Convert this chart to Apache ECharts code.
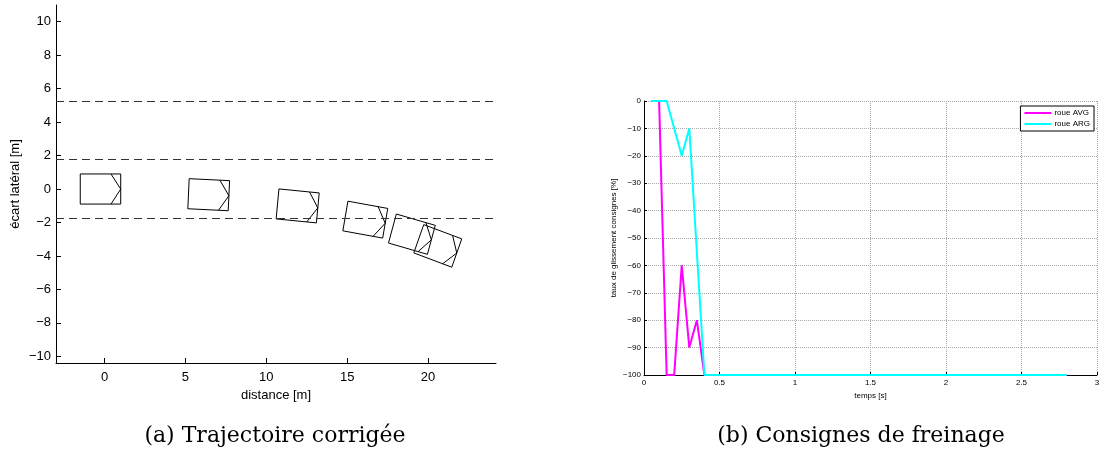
<!DOCTYPE html>
<html><head><meta charset="utf-8">
<script src="https://cdn.jsdelivr.net/npm/echarts@6/dist/echarts.min.js"></script>
<style>html,body{margin:0;padding:0;background:#fff}#c{width:1104px;height:461px}</style>
</head><body><div id="c"></div>
<script>
// ---- Panel (a): trajectory ----
const carX = [-0.25, 6.44, 11.94, 16.12, 19.0, 20.6];
const carY = [0, -0.34, -1.01, -1.83, -2.7, -3.4];
const carHeading = [0, -2.7, -5.5, -10, -15.7, -20];
const laneY = [5.25, 1.75, -1.75];
const leftXTicks = [0, 5, 10, 15, 20];
const leftYTicks = [-10, -8, -6, -4, -2, 0, 2, 4, 6, 8, 10];
// ---- Panel (b): braking commands ----
const tAVG = [0.05, 0.1, 0.15, 0.2, 0.25, 0.3, 0.35, 0.4, 2.8];
const slipAVG = [0, 0, -100, -100, -60, -90, -80, -100, -100];
const tARG = [0.05, 0.1, 0.15, 0.25, 0.3, 0.4, 2.8];
const slipARG = [0, 0, 0, -20, -10, -100, -100];
const captions = ['(a) Trajectoire corrigée', '(b) Consignes de freinage'];

const CAR_LEN = 2.5, CAR_WID = 1.8, NOSE = 0.6;
const SANS = '"Liberation Sans", Arial, sans-serif';
const minus = v => String(v).replace('-', '\u2212');

function renderCar(params, api) {
  const cx = api.value(0), cy = api.value(1), h = api.value(2) * Math.PI / 180;
  const c = Math.cos(h), s = Math.sin(h);
  const P = (u, v) => api.coord([cx + u * c - v * s, cy + u * s + v * c]);
  const hl = CAR_LEN / 2, hw = CAR_WID / 2;
  const rect = [P(-hl, hw), P(hl, hw), P(hl, -hw), P(-hl, -hw)];
  const chev = [P(hl - NOSE, hw), P(hl, 0), P(hl - NOSE, -hw)];
  return { type: 'group', children: [
    { type: 'polygon', shape: { points: rect }, style: { fill: 'none', stroke: '#000', lineWidth: 1 } },
    { type: 'polyline', shape: { points: chev }, style: { fill: 'none', stroke: '#000', lineWidth: 1 } }
  ] };
}

const chart = echarts.init(document.getElementById('c'), null, { renderer: 'canvas' });
chart.setOption({
  animation: false,
  backgroundColor: '#fff',
  textStyle: { fontFamily: SANS },
  grid: [
    { left: 56, top: 5, width: 440, height: 358 },
    { left: 644, top: 101, width: 453, height: 274 }
  ],
  xAxis: [
    { gridIndex: 0, type: 'value', min: -3, max: 24.2,
      axisLine: { show: true, onZero: false, lineStyle: { color: '#000', width: 1 } },
      axisTick: { show: true, inside: true, length: 5, customValues: leftXTicks, lineStyle: { color: '#000' } },
      axisLabel: { customValues: leftXTicks, fontSize: 13, color: '#000', margin: 8, fontFamily: SANS, formatter: minus },
      splitLine: { show: false },
      name: 'distance [m]', nameLocation: 'middle', nameGap: 22,
      nameTextStyle: { fontSize: 13, color: '#000', fontFamily: SANS } },
    { gridIndex: 1, type: 'value', min: 0, max: 3, interval: 0.5,
      axisLine: { show: true, onZero: false, lineStyle: { color: '#000', width: 1 } },
      axisTick: { show: true, inside: true, length: 3, lineStyle: { color: '#000' } },
      axisLabel: { fontSize: 8, color: '#000', margin: 4, fontFamily: SANS },
      splitLine: { show: true, lineStyle: { type: 'dotted', color: '#aaa', width: 1 } },
      name: 'temps [s]', nameLocation: 'middle', nameGap: 14,
      nameTextStyle: { fontSize: 8, color: '#000', fontFamily: SANS } }
  ],
  yAxis: [
    { gridIndex: 0, type: 'value', min: -10.4, max: 11,
      axisLine: { show: true, onZero: false, lineStyle: { color: '#000', width: 1 } },
      axisTick: { show: true, inside: true, length: 5, customValues: leftYTicks, lineStyle: { color: '#000' } },
      axisLabel: { customValues: leftYTicks, fontSize: 13, color: '#000', margin: 5, fontFamily: SANS, formatter: minus },
      splitLine: { show: false },
      name: 'écart latéral [m]', nameLocation: 'middle', nameGap: 34,
      nameTextStyle: { fontSize: 13, color: '#000', fontFamily: SANS } },
    { gridIndex: 1, type: 'value', min: -100, max: 0, interval: 10,
      axisLine: { show: true, onZero: false, lineStyle: { color: '#000', width: 1 } },
      axisTick: { show: true, inside: true, length: 3, lineStyle: { color: '#000' } },
      axisLabel: { fontSize: 8, color: '#000', margin: 3, fontFamily: SANS, formatter: minus },
      splitLine: { show: true, lineStyle: { type: 'dotted', color: '#aaa', width: 1 } },
      name: 'taux de glissement consignes [%]', nameLocation: 'middle', nameGap: 26,
      nameTextStyle: { fontSize: 8, color: '#000', fontFamily: SANS } }
  ],
  legend: {
    data: ['roue AVG', 'roue ARG'],
    orient: 'vertical', right: 10, top: 106,
    backgroundColor: '#fff', borderColor: '#000', borderWidth: 1,
    padding: [3, 4, 3, 4], itemGap: 3, itemWidth: 27, itemHeight: 2, icon: 'rect',
    textStyle: { fontSize: 8, color: '#000', fontFamily: SANS, padding: [0, 0, 0, -2] }
  },
  series: [
    { type: 'custom', name: 'cars', xAxisIndex: 0, yAxisIndex: 0,
      data: carX.map((x, i) => [x, carY[i], carHeading[i]]),
      encode: { x: 0, y: 1 }, renderItem: renderCar, silent: true,
      markLine: { silent: true, symbol: ['none', 'none'], label: { show: false },
        lineStyle: { type: [8, 5], color: '#333', width: 1 },
        data: laneY.map(y => ({ yAxis: y })) } },
    { type: 'line', name: 'roue AVG', xAxisIndex: 1, yAxisIndex: 1,
      data: tAVG.map((t, i) => [t, slipAVG[i]]), symbol: 'none',
      lineStyle: { color: '#ff00ff', width: 2 }, itemStyle: { color: '#ff00ff' } },
    { type: 'line', name: 'roue ARG', xAxisIndex: 1, yAxisIndex: 1,
      data: tARG.map((t, i) => [t, slipARG[i]]), symbol: 'none',
      lineStyle: { color: '#00ffff', width: 2 }, itemStyle: { color: '#00ffff' } }
  ],
  graphic: [
    { type: 'text', x: 275, y: 436, style: { text: captions[0], font: '22px "DejaVu Serif", serif', fill: '#000', textAlign: 'center', textVerticalAlign: 'middle' } },
    { type: 'text', x: 861, y: 436, style: { text: captions[1], font: '22px "DejaVu Serif", serif', fill: '#000', textAlign: 'center', textVerticalAlign: 'middle' } }
  ]
});
</script></body></html>
